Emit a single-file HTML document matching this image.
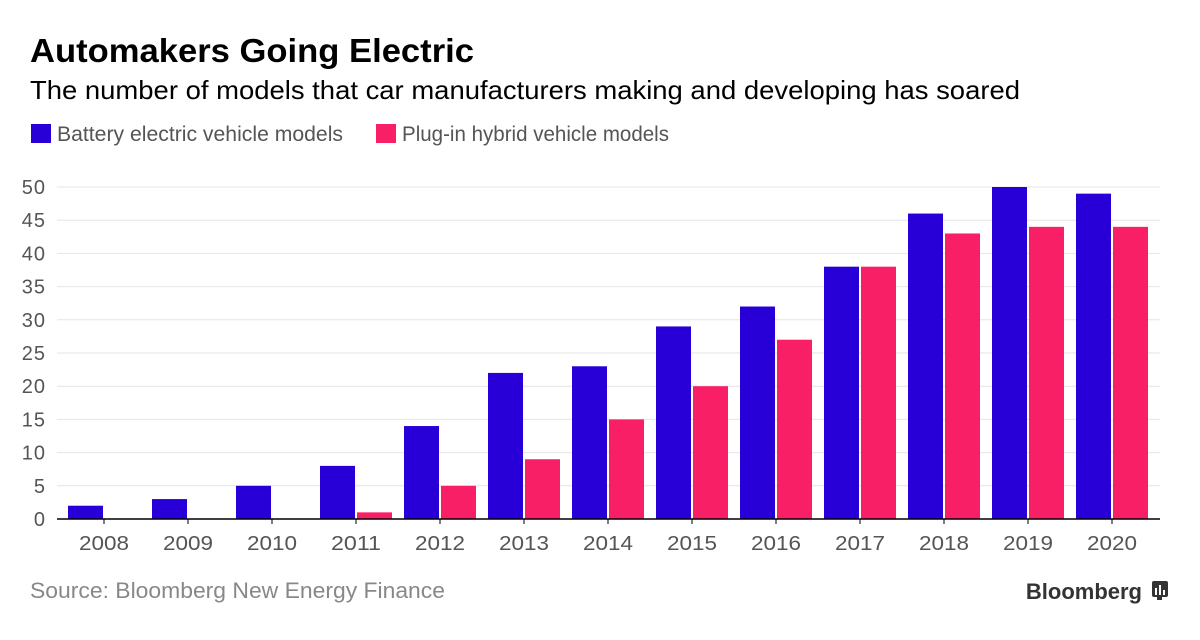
<!DOCTYPE html>
<html><head><meta charset="utf-8"><style>
body{margin:0;width:1200px;height:635px;background:#fff;font-family:"Liberation Sans",sans-serif;overflow:hidden}
</style></head><body>
<svg width="1200" height="635">
<text x="30" y="62" font-size="33" font-weight="bold" fill="#000" textLength="444" lengthAdjust="spacingAndGlyphs">Automakers Going Electric</text>
<text x="30" y="99" font-size="26" fill="#000" textLength="990" lengthAdjust="spacingAndGlyphs">The number of models that car manufacturers making and developing has soared</text>
<g>
<rect x="31" y="124" width="20" height="19" fill="#2800d7"/>
<text x="57" y="141" font-size="21" fill="#555" textLength="286" lengthAdjust="spacingAndGlyphs">Battery electric vehicle models</text>
<rect x="376" y="124" width="20" height="19" fill="#f91f66"/>
<text x="402" y="141" font-size="21" fill="#555" textLength="267" lengthAdjust="spacingAndGlyphs">Plug-in hybrid vehicle models</text>
</g>
<g id="grid"></g><g id="bars"></g><g id="axis"></g>
<text x="30" y="598" font-size="22" fill="#888" textLength="415" lengthAdjust="spacingAndGlyphs">Source: Bloomberg New Energy Finance</text>
<text x="1142" y="599" font-size="22" font-weight="bold" fill="#333" text-anchor="end">Bloomberg</text>
<g><rect x="1152" y="581" width="16" height="16" rx="2" fill="#333"/><rect x="1157" y="597" width="5" height="3" fill="#333"/><rect x="1155" y="588" width="2" height="7" fill="#fff"/><rect x="1159" y="585" width="2" height="10" fill="#fff"/><rect x="1163" y="590" width="2" height="5" fill="#fff"/></g>
</svg>
<script>
const years=["2008","2009","2010","2011","2012","2013","2014","2015","2016","2017","2018","2019","2020"];
const bev=[2,3,5,8,14,22,23,29,32,38,46,50,49];
const phev=[0,0,0,1,5,9,15,20,27,38,43,44,44];
const yTicks=[0,5,10,15,20,25,30,35,40,45,50];
const NS="http://www.w3.org/2000/svg";
const y0=519,yMax=50,yTop=187;
const y=v=>y0-(v/yMax)*(y0-yTop);
const cx=i=>104+84*i;
function mk(t,a,p){const e=document.createElementNS(NS,t);for(const k in a)e.setAttribute(k,a[k]);document.getElementById(p).appendChild(e);return e;}
yTicks.forEach(v=>{
 if(v>0){const l=mk('line',{x1:57,x2:1160,y1:y(v),y2:y(v),stroke:'#e4e4ea','stroke-width':1},'grid');
 
 }
 const t=mk('text',{x:46,y:y(v)+7,'font-size':20,fill:'#555','text-anchor':'end','letter-spacing':1},'axis');t.textContent=v;
 
 
});
years.forEach((yr,i)=>{
 const b=mk('rect',{x:cx(i)-36,y:y(bev[i]),width:35,height:y0-y(bev[i]),fill:'#2800d7'},'bars');
 
 
 if(phev[i]>0){const p=mk('rect',{x:cx(i)+1,y:y(phev[i]),width:35,height:y0-y(phev[i]),fill:'#f91f66'},'bars');
 
 }
 const tk=mk('line',{x1:cx(i),x2:cx(i),y1:y0,y2:y0+5,stroke:'#000','stroke-width':1},'axis');
 
 
 const t=mk('text',{x:cx(i)-25,y:550,'font-size':20,fill:'#555',textLength:50,lengthAdjust:'spacingAndGlyphs'},'axis');t.textContent=yr;
 
 
});
const ax=mk('line',{x1:57,x2:1160,y1:y0,y2:y0,stroke:'#000','stroke-width':1.5},'axis');


</script>
</body></html>
